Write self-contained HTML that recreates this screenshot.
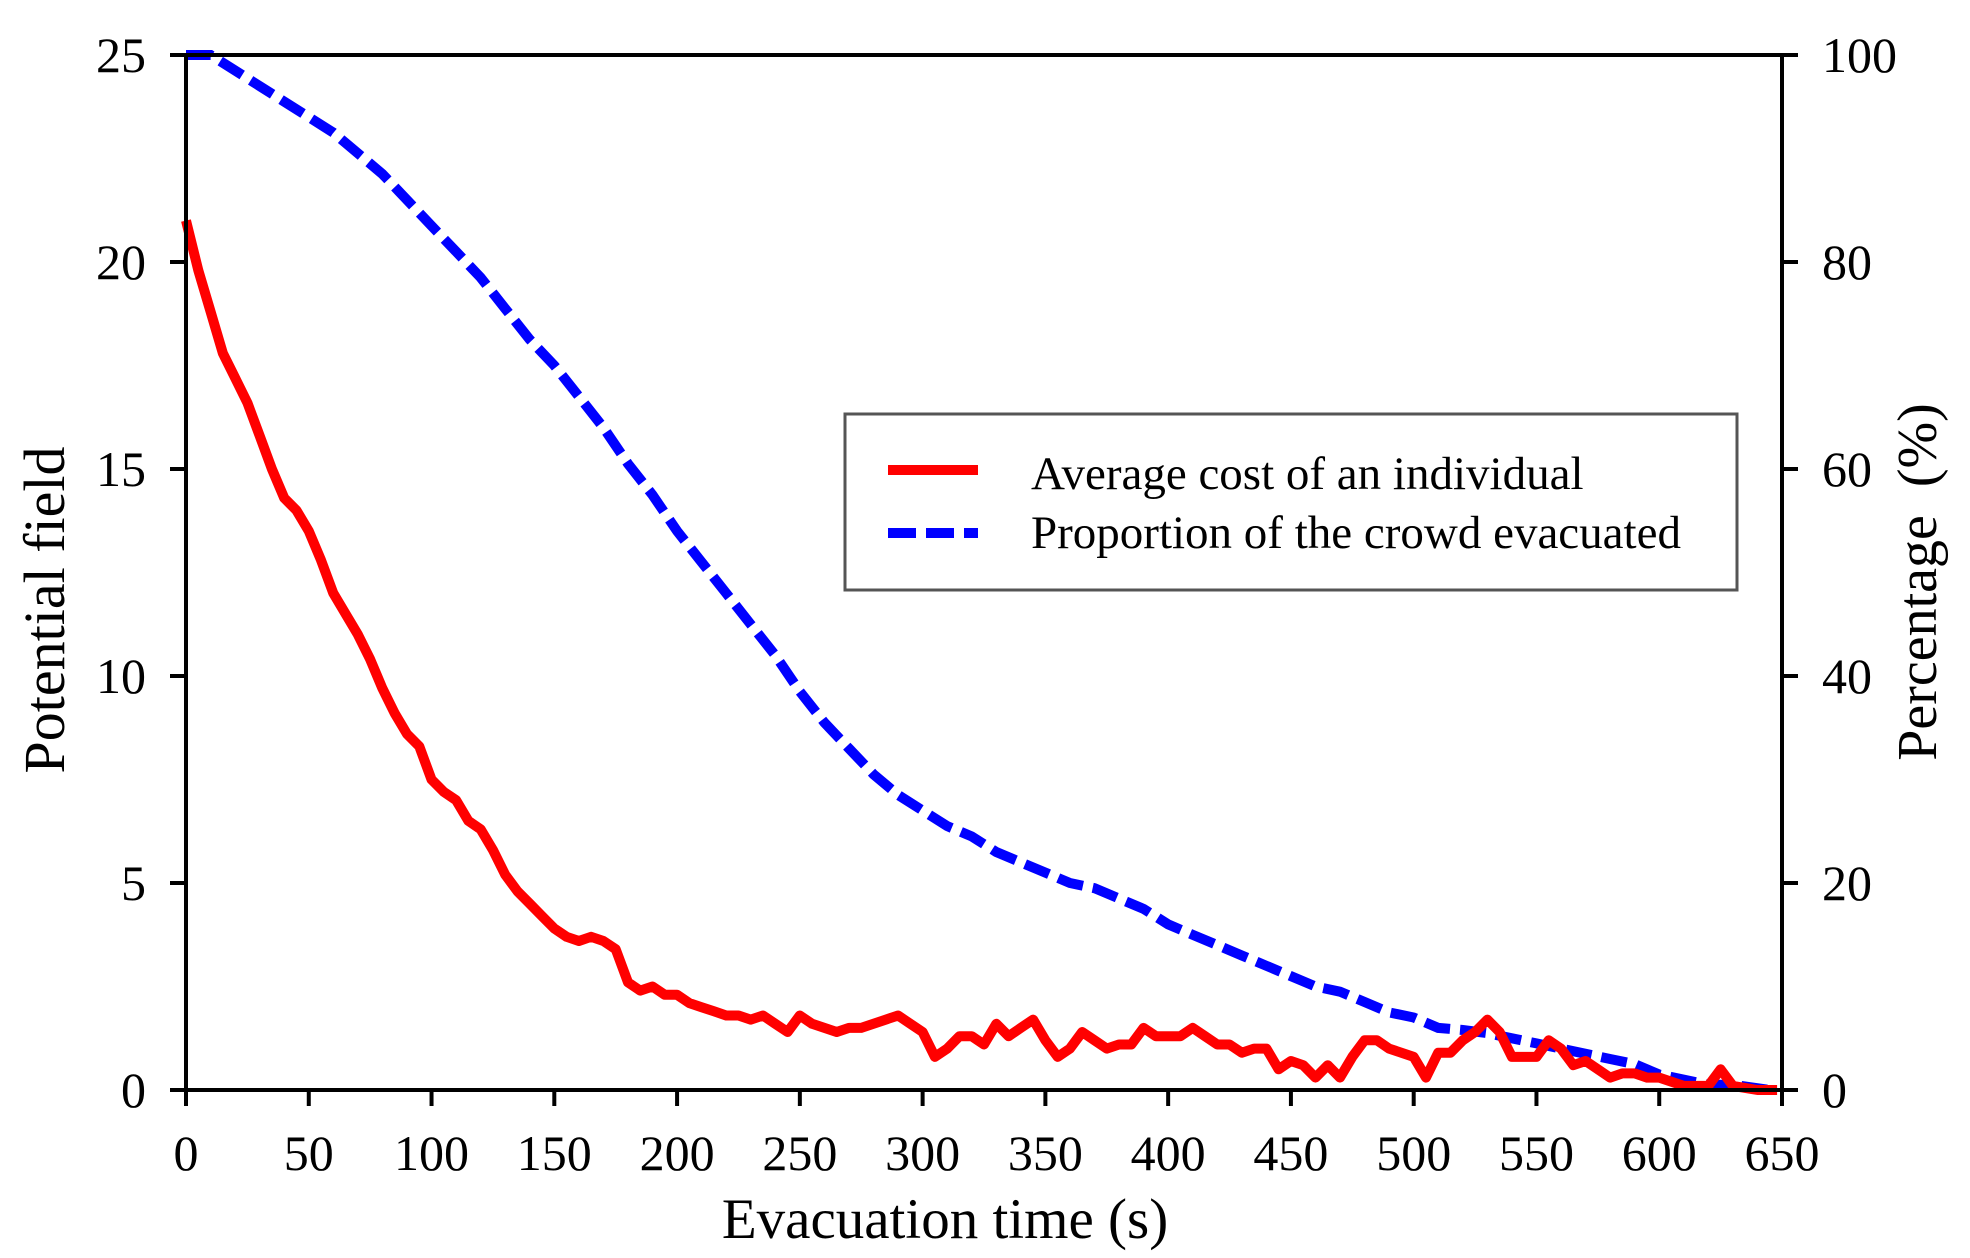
<!DOCTYPE html>
<html><head><meta charset="utf-8"><style>
html,body{margin:0;padding:0;background:#fff;}
svg{display:block;font-family:"Liberation Serif",serif;}
</style></head><body>
<svg id="chart" width="1970" height="1258" viewBox="0 0 1970 1258" xmlns="http://www.w3.org/2000/svg">
<rect x="0" y="0" width="1970" height="1258" fill="#fff"/>
<g id="series"></g>
<rect x="186" y="55" width="1596" height="1035" fill="none" stroke="#000" stroke-width="4"/>
<g id="axes"></g>
<text x="945" y="1238" font-size="57" text-anchor="middle">Evacuation time (s)</text>
<text transform="translate(64,610) rotate(-90)" font-size="58" text-anchor="middle">Potential field</text>
<text transform="translate(1936,582) rotate(-90)" font-size="56" text-anchor="middle" xml:space="preserve">Percentage  (%)</text>
<g>
<rect x="845" y="414" width="892" height="176" fill="#fff" stroke="#555" stroke-width="3"/>
<line x1="888" y1="470" x2="978" y2="470" stroke="#f00" stroke-width="10"/>
<line x1="888" y1="533" x2="978" y2="533" stroke="#00f" stroke-width="10" stroke-dasharray="28,10"/>
<text x="1031" y="489" font-size="47">Average cost of an individual</text>
<text x="1031" y="548" font-size="47">Proportion of the crowd evacuated</text>
</g>
</svg>
<script>
const costTimes = [0,5,10,15,20,25,30,35,40,45,50,55,60,65,70,75,80,85,90,95,100,105,110,115,120,125,130,135,140,145,150,155,160,165,170,175,180,185,190,195,200,205,210,215,220,225,230,235,240,245,250,255,260,265,270,275,280,285,290,295,300,305,310,315,320,325,330,335,340,345,350,355,360,365,370,375,380,385,390,395,400,405,410,415,420,425,430,435,440,445,450,455,460,465,470,475,480,485,490,495,500,505,510,515,520,525,530,535,540,545,550,555,560,565,570,575,580,585,590,595,600,605,610,615,620,625,630,640,648];
const costValues = [21,19.8,18.8,17.8,17.2,16.6,15.8,15,14.3,14,13.5,12.8,12,11.5,11,10.4,9.7,9.1,8.6,8.3,7.5,7.2,7.0,6.5,6.3,5.8,5.2,4.8,4.5,4.2,3.9,3.7,3.6,3.7,3.6,3.4,2.6,2.4,2.5,2.3,2.3,2.1,2.0,1.9,1.8,1.8,1.7,1.8,1.6,1.4,1.8,1.6,1.5,1.4,1.5,1.5,1.6,1.7,1.8,1.6,1.4,0.8,1.0,1.3,1.3,1.1,1.6,1.3,1.5,1.7,1.2,0.8,1.0,1.4,1.2,1.0,1.1,1.1,1.5,1.3,1.3,1.3,1.5,1.3,1.1,1.1,0.9,1.0,1.0,0.5,0.7,0.6,0.3,0.6,0.3,0.8,1.2,1.2,1.0,0.9,0.8,0.3,0.9,0.9,1.2,1.4,1.7,1.4,0.8,0.8,0.8,1.2,1.0,0.6,0.7,0.5,0.3,0.4,0.4,0.3,0.3,0.2,0.1,0.1,0.1,0.5,0.1,0.0,0.0];
const pctTimes = [0,10,20,30,40,50,60,70,80,90,100,110,120,130,140,150,160,170,180,190,200,210,220,230,240,250,260,270,280,290,300,310,320,330,340,350,360,370,380,390,400,410,420,430,440,450,460,470,480,490,500,510,520,530,540,550,560,570,580,590,600,610,620,630,645];
const pctValues = [100,100,98.5,97,95.5,94,92.5,90.5,88.5,86,83.5,81,78.5,75.5,72.5,70,67,64,60.5,57.5,54,51,48,45,42,38.5,35.5,33,30.5,28.5,27,25.5,24.5,23,22,21,20,19.5,18.5,17.5,16,15,14,13,12,11,10,9.5,8.5,7.5,7,6,5.8,5.5,5,4.5,4,3.5,3,2.5,1.5,1,0.5,0.5,0];
const xTicks = [0,50,100,150,200,250,300,350,400,450,500,550,600,650];
const yLeftTicks = [0,5,10,15,20,25];
const yRightTicks = [0,20,40,60,80,100];

const X0=186,X1=1782,Y0=1090,Y1=55;
const xs = t => X0 + (t/650)*(X1-X0);
const yl = v => Y0 - (v/25)*(Y0-Y1);
const yr = v => Y0 - (v/100)*(Y0-Y1);
const NS='http://www.w3.org/2000/svg';
const series=document.getElementById('series'), axes=document.getElementById('axes');
function mk(tag, attrs, parent){const e=document.createElementNS(NS,tag);for(const k in attrs)e.setAttribute(k,attrs[k]);parent.appendChild(e);return e;}

let d=pctTimes.map((t,i)=>(i?'L':'M')+xs(t).toFixed(1)+','+yr(pctValues[i]).toFixed(1)).join(' ');
const blue=mk('path',{d:d,fill:'none',stroke:'#00f','stroke-width':10,'stroke-dasharray':'26,10'},series);


d=costTimes.map((t,i)=>(i?'L':'M')+xs(t).toFixed(1)+','+yl(costValues[i]).toFixed(1)).join(' ');
const red=mk('path',{d:d,fill:'none',stroke:'#f00','stroke-width':10,'stroke-linejoin':'round'},series);



xTicks.forEach(t=>{
  const l=mk('line',{x1:xs(t),x2:xs(t),y1:Y0,y2:Y0+16,stroke:'#000','stroke-width':4},axes);
  
  
  const tx=mk('text',{x:xs(t),y:1170,'font-size':50,'text-anchor':'middle'},axes);tx.textContent=t;
  
  
});
yLeftTicks.forEach(v=>{
  const l=mk('line',{x1:X0-16,x2:X0,y1:yl(v),y2:yl(v),stroke:'#000','stroke-width':4},axes);
  
  
  const tx=mk('text',{x:146,y:yl(v)+17,'font-size':50,'text-anchor':'end'},axes);tx.textContent=v;
  
  
});
yRightTicks.forEach(v=>{
  const l=mk('line',{x1:X1,x2:X1+16,y1:yr(v),y2:yr(v),stroke:'#000','stroke-width':4},axes);
  
  
  const tx=mk('text',{x:1822,y:yr(v)+17,'font-size':50,'text-anchor':'start'},axes);tx.textContent=v;
  
  
});
</script>
</body></html>
